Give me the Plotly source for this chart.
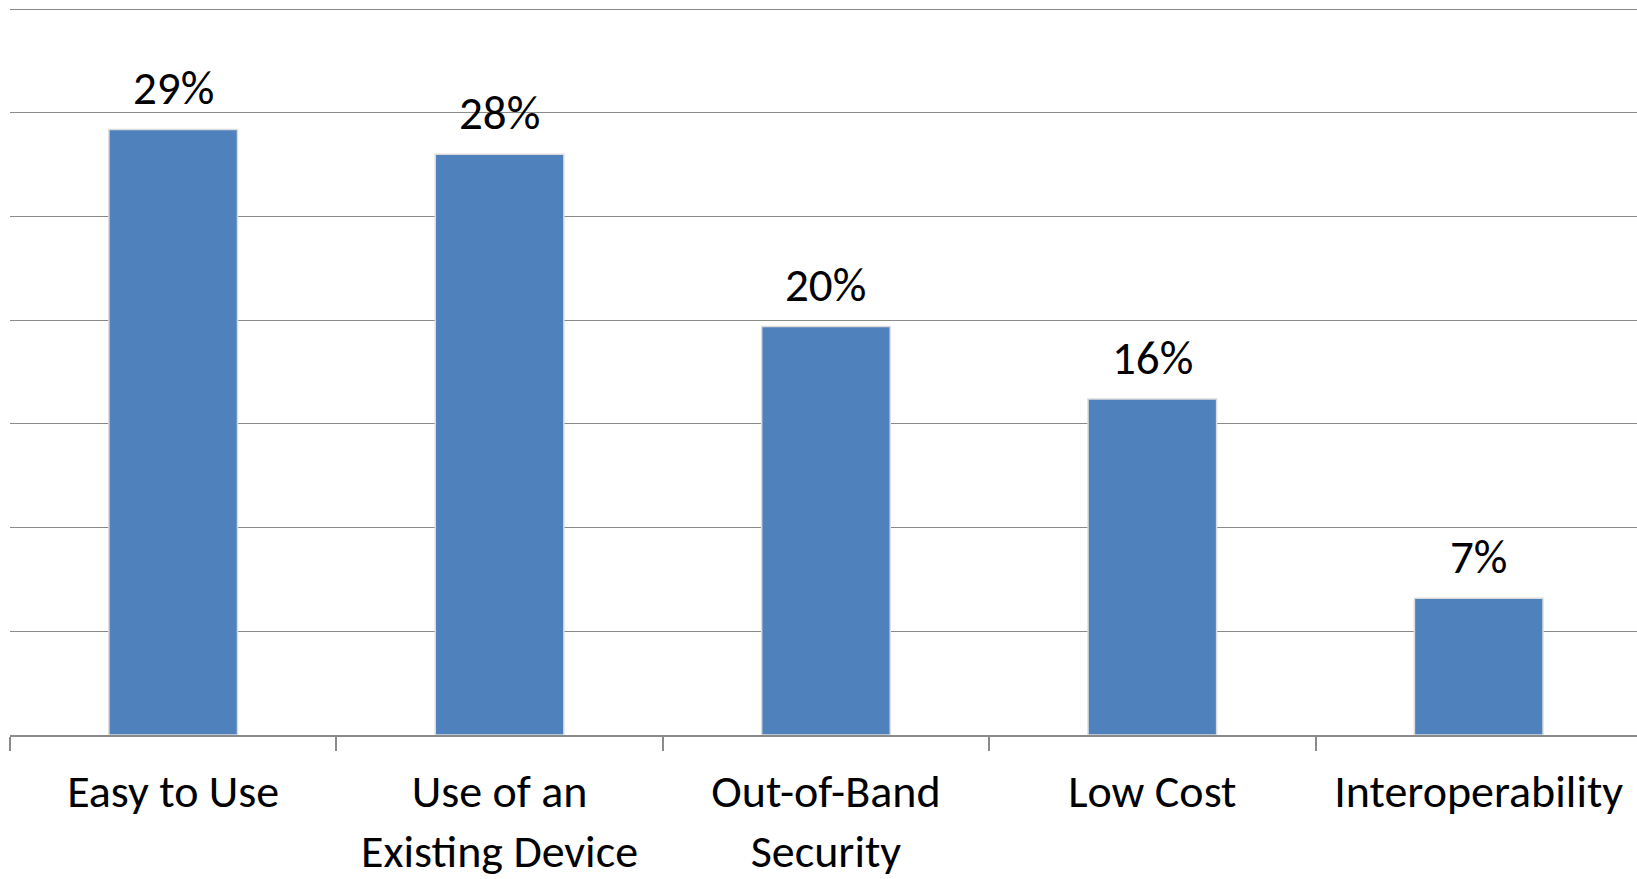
import plotly.graph_objects as go

categories = ["Easy to Use", "Use of an<br>Existing Device", "Out-of-Band<br>Security", "Low Cost", "Interoperability"]
values = [0.292, 0.280, 0.197, 0.162, 0.066]
labels = ["29%", "28%", "20%", "16%", "7%"]

FONT = "Calibri, Carlito, Lato, sans-serif"
GRID = "#8a8a8a"
FS = 46

fig = go.Figure(go.Bar(
    x=categories, y=values,
    width=0.394,
    marker=dict(color="#4F81BD", line=dict(color="#dcdcdc", width=1.5)),
    hoverinfo="skip",
))

for c, v, t in zip(categories, values, labels):
    fig.add_annotation(x=c, y=v, text=t, showarrow=False, yanchor="bottom",
                       yshift=10, font=dict(family=FONT, size=47, color="#000000"))

fig.update_layout(
    width=1637, height=879,
    margin=dict(l=10, r=0, t=5, b=144, autoexpand=False),
    paper_bgcolor="white", plot_bgcolor="white",
    showlegend=False,
    font=dict(family=FONT, size=FS, color="#000000"),
)
fig.update_xaxes(
    type="category", range=[-0.5, 4.485], automargin=False,
    showline=True, linecolor=GRID, linewidth=2,
    ticks="outside", tickson="boundaries", ticklen=14, tickwidth=2, tickcolor=GRID,
    showgrid=False, ticklabelstandoff=15,
    tickfont=dict(family=FONT, size=FS, color="#000000"),
)
fig.update_yaxes(
    range=[0, 0.352], dtick=0.05, tick0=0, automargin=False,
    showgrid=True, gridcolor=GRID, gridwidth=1.3,
    zeroline=False, showticklabels=False, ticks="",
)

fig.write_html("out.html")
